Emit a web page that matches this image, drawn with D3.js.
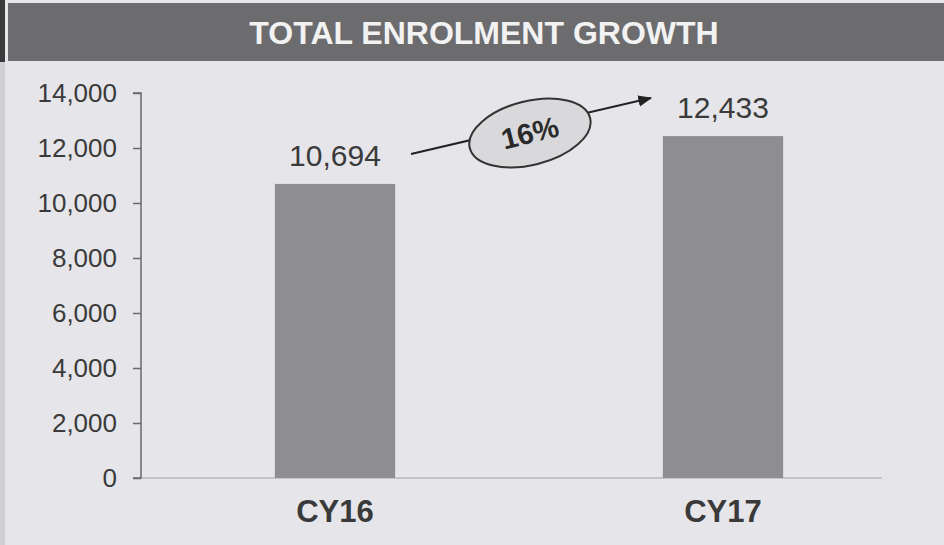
<!DOCTYPE html>
<html lang="en">
<head>
    <meta charset="UTF-8">
    <title>Total Enrolment Growth</title>
    <script src="https://d3js.org/d3.v7.min.js"></script>
    <style>
        body { margin: 0; background: #e4e4e8; font-family: Arial, "Liberation Sans", sans-serif; }
        svg { display: block; }
    </style>
</head>
<body>
    <div id="chart"></div>
    <script>
        // Data
        const categories = ["CY16", "CY17"];
        const enrolments = [10694, 12433];
        const yTicks = [0, 2000, 4000, 6000, 8000, 10000, 12000, 14000];
        const growthLabel = "16%";
        const title = "TOTAL ENROLMENT GROWTH";

        const W = 944, H = 545;
        const margin = { top: 93, right: 27, bottom: 67, left: 141 };
        const width = W - margin.left - margin.right;
        const height = H - margin.top - margin.bottom;

        const svg = d3.select("#chart").append("svg")
          .attr("width", W).attr("height", H);

        // background + scan strip at left
        svg.append("rect").attr("width", W).attr("height", H).attr("fill", "#e6e6ea");
        svg.append("rect").attr("x", 0).attr("width", 5).attr("height", H).attr("fill", "#d0d0d4");
        svg.append("rect").attr("x", 0).attr("y", 0).attr("width", 5).attr("height", 62).attr("fill", "#3a3a3a");

        // title bar
        svg.append("rect").attr("x", 8).attr("y", 3).attr("width", W - 8).attr("height", 58)
          .attr("fill", "#6c6c6e");
        svg.append("text").attr("x", 484).attr("y", 44)
          .attr("text-anchor", "middle").attr("fill", "#f2f2f2")
          .style("font-size", "32px").style("font-weight", "bold").text(title);

        const g = svg.append("g").attr("transform", `translate(${margin.left},${margin.top})`);

        const x = d3.scaleBand().domain(categories).range([0, width]).padding(0.69).paddingOuter(0.345);
        const y = d3.scaleLinear().domain([0, 14000]).range([height, 0]);

        // baseline
        g.append("line").attr("x1", 0).attr("x2", width - 35)
          .attr("y1", y(0)).attr("y2", y(0)).attr("stroke", "#b8b8bc").attr("stroke-width", 1.5);

        // bars
        g.selectAll(".bar").data(enrolments).join("rect")
          .attr("class", "bar")
          .attr("x", (d, i) => x(categories[i]))
          .attr("width", x.bandwidth())
          .attr("y", d => y(d))
          .attr("height", d => y(0) - y(d))
          .attr("fill", "#8e8e90");

        // y axis
        const yAxis = g.append("g")
          .call(d3.axisLeft(y).tickValues(yTicks).tickSize(8).tickPadding(16).tickFormat(d3.format(",")));
        yAxis.select(".domain").attr("stroke", "#6a6a6a").attr("stroke-width", 1.5).attr("d", `M-8,${y(14000)}H0V${y(0)}H-8`);
        yAxis.selectAll(".tick line").attr("stroke", "#6a6a6a").attr("stroke-width", 1.5);
        yAxis.selectAll(".tick text").attr("fill", "#3a3a3a").style("font-size", "26px").style("font-family", "Arial, 'Liberation Sans', sans-serif");

        // category labels
        g.selectAll(".cat").data(categories).join("text")
          .attr("class", "cat")
          .attr("x", d => x(d) + x.bandwidth() / 2)
          .attr("y", y(0) + 44)
          .attr("text-anchor", "middle").attr("fill", "#3a3a3a")
          .style("font-size", "31px").style("font-weight", "bold")
          .text(d => d);

        // value labels
        g.selectAll(".val").data(enrolments).join("text")
          .attr("class", "val")
          .attr("x", (d, i) => x(categories[i]) + x.bandwidth() / 2)
          .attr("y", d => y(d) - 18)
          .attr("text-anchor", "middle").attr("fill", "#3a3a3a")
          .style("font-size", "30px")
          .text(d3.format(","));

        // growth arrow
        svg.append("defs").append("marker")
          .attr("id", "arrow").attr("viewBox", "0 0 10 10").attr("refX", 9).attr("refY", 5)
          .attr("markerWidth", 7).attr("markerHeight", 7).attr("orient", "auto")
          .append("path").attr("d", "M0,1L10,5L0,9Z").attr("fill", "#222");

        const x0 = x(categories[0]) + x.bandwidth() / 2 + 76;
        const y0 = y(enrolments[0]) - 30;
        const x1 = x(categories[1]) - 12;
        const y1 = y(enrolments[1]) - 38;
        g.append("line").attr("x1", x0).attr("y1", y0).attr("x2", x1).attr("y2", y1)
          .attr("stroke", "#222").attr("stroke-width", 2).attr("marker-end", "url(#arrow)");

        const cx = (x0 + x1) / 2 - 1, cy = (y0 + y1) / 2 + 7;
        const angle = -14;
        const badge = g.append("g").attr("transform", `translate(${cx},${cy}) rotate(${angle})`);
        badge.append("ellipse").attr("rx", 62).attr("ry", 32)
          .attr("fill", "#d9d9db").attr("stroke", "#333").attr("stroke-width", 2);
        badge.append("text").attr("y", 10).attr("text-anchor", "middle")
          .attr("fill", "#2a2a2a").style("font-size", "29px").style("font-weight", "bold")
          .text(growthLabel);
    </script>
</body>
</html>
